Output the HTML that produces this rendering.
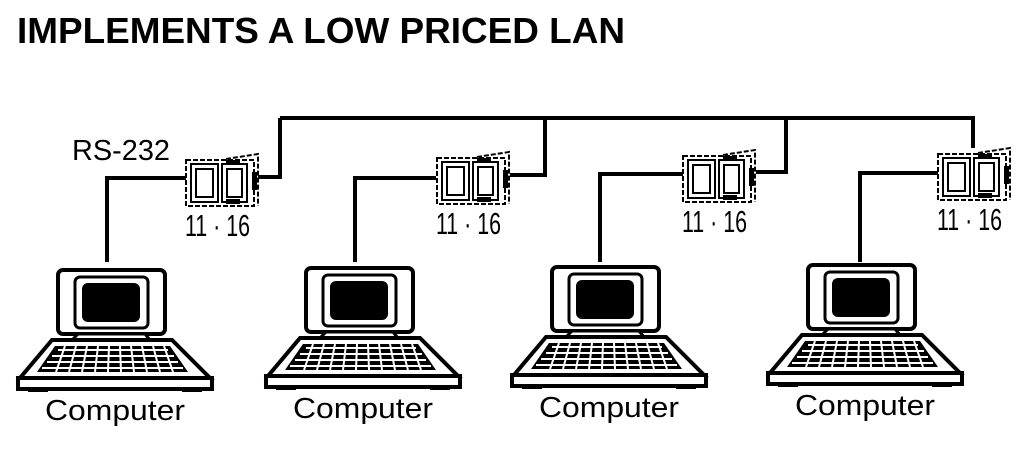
<!DOCTYPE html>
<html><head><meta charset="utf-8"><style>
html,body{margin:0;padding:0;background:#fff;width:1024px;height:449px;overflow:hidden}
svg text{font-family:"Liberation Sans",sans-serif}
</style></head><body>
<svg width="1024" height="449" viewBox="0 0 1024 449" xmlns="http://www.w3.org/2000/svg">
<defs>
<g id="comp">
  <rect x="58" y="270" width="107" height="64" rx="5" fill="#fff" stroke="#000" stroke-width="4"/>
  <rect x="75" y="277" width="73" height="51" rx="5" fill="#fff" stroke="#000" stroke-width="3"/>
  <rect x="82" y="283" width="58" height="39" rx="6" fill="#000"/>
  <path d="M78 334 L145 334 L150 340 L72 340 Z" fill="#fff" stroke="#000" stroke-width="3"/>
  <path d="M52 340 L172 340 L210 378 L20 378 Z" fill="#fff" stroke="#000" stroke-width="4"/>
  <path d="M55 346 L170 346 L188 372 L37 372 Z" fill="#000"/>
  <g fill="#fff">
    <path d="M58 349h110v2H58z"/><path d="M52 355h122v2H52z"/><path d="M47 361h131v2H47z"/><path d="M42 367h141v2H42z"/>
  </g>
  <g stroke="#fff" stroke-width="2">
    <path d="M65 346 L56 372 M76 346 L69 372 M87 346 L82 372 M98 346 L95 372 M109 346 L108 372 M120 346 L121 372 M131 346 L134 372 M142 346 L147 372 M153 346 L160 372 M164 346 L173 372"/>
  </g>
  <rect x="18" y="378" width="194" height="11" fill="#fff" stroke="#000" stroke-width="4"/>
  <rect x="28" y="388" width="20" height="4" fill="#000"/><rect x="182" y="388" width="20" height="4" fill="#000"/>
  <text x="45" y="420" font-size="29" textLength="140" lengthAdjust="spacingAndGlyphs">Computer</text>
</g>
<g id="box">
  <rect x="186" y="160" width="68" height="46" fill="none" stroke="#000" stroke-width="2" stroke-dasharray="5 2"/>
  <rect x="191" y="164" width="27" height="38" fill="none" stroke="#000" stroke-width="2"/>
  <rect x="196" y="169" width="17" height="28" fill="none" stroke="#000" stroke-width="2"/>
  <rect x="222" y="164" width="25" height="38" fill="none" stroke="#000" stroke-width="2"/>
  <rect x="227" y="169" width="15" height="28" fill="none" stroke="#000" stroke-width="2"/>
  <path d="M226 159 L258 154 L258 206" fill="none" stroke="#000" stroke-width="2" stroke-dasharray="5 2"/>
  <rect x="226" y="160" width="14" height="5" fill="#000"/>
  <rect x="226" y="199" width="14" height="5" fill="#000"/>
  <rect x="252" y="172" width="5" height="18" fill="#000"/>
  <text x="185" y="236" font-size="31" textLength="65" lengthAdjust="spacingAndGlyphs">11 · 16</text>
</g>
</defs>
<text x="17" y="43" font-size="36" font-weight="bold" textLength="608" lengthAdjust="spacingAndGlyphs">IMPLEMENTS A LOW PRICED LAN</text>
<text x="72" y="160" font-size="29" textLength="98" lengthAdjust="spacingAndGlyphs">RS-232</text>
<g fill="none" stroke="#000" stroke-width="4">
  <path d="M280 118 L975 118"/>
  <path d="M258 177 L280 177 L280 118"/>
  <path d="M510 175 L545 175 L545 118"/>
  <path d="M756 172 L786 172 L786 118"/>
  <path d="M973 118 L973 148"/>
  <path d="M107 262 L107 178 L186 178"/>
  <path d="M355 262 L355 178 L436 178"/>
  <path d="M600 262 L600 174 L683 174"/>
  <path d="M860 262 L860 173 L938 173"/>
</g>
<use href="#comp"/>
<use href="#comp" transform="translate(248,-2)"/>
<use href="#comp" transform="translate(494,-3)"/>
<use href="#comp" transform="translate(750,-5)"/>
<use href="#box"/>
<use href="#box" transform="translate(251,-2)"/>
<use href="#box" transform="translate(497,-4)"/>
<use href="#box" transform="translate(752,-6)"/>
</svg>
</body></html>
